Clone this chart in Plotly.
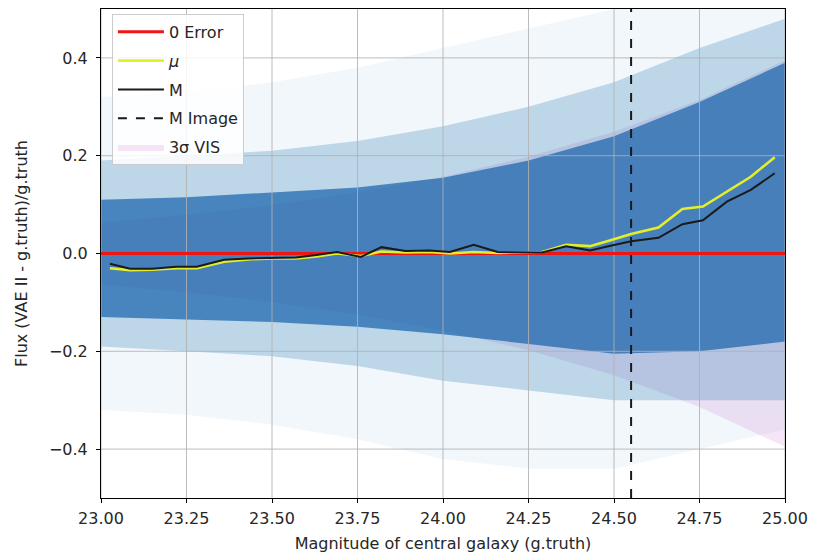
import plotly.graph_objects as go

# ---- data ----
mag_bins = [23.026, 23.085, 23.15, 23.22, 23.28, 23.36, 23.43, 23.50, 23.57, 23.63,
            23.69, 23.76, 23.82, 23.89, 23.96, 24.02, 24.09, 24.16, 24.23, 24.29,
            24.36, 24.43, 24.49, 24.55, 24.63, 24.70, 24.76, 24.83, 24.90, 24.97]
M_vals = [-0.021, -0.031, -0.031, -0.027, -0.027, -0.013, -0.010, -0.009, -0.008, -0.003,
          0.003, -0.007, 0.013, 0.005, 0.006, 0.003, 0.018, 0.003, 0.003, 0.002,
          0.015, 0.006, 0.016, 0.025, 0.032, 0.060, 0.068, 0.106, 0.130, 0.164]
mu_vals = [-0.030, -0.034, -0.033, -0.030, -0.030, -0.017, -0.012, -0.010, -0.010, -0.006,
           0.000, -0.005, 0.004, 0.002, 0.003, 0.000, 0.003, 0.001, 0.002, 0.003,
           0.018, 0.015, 0.027, 0.040, 0.053, 0.091, 0.096, 0.127, 0.157, 0.197]
M_image = 24.55

# envelope of the scatter cloud and the 3-sigma VIS band
env_mag = [23.0, 23.25, 23.5, 23.75, 24.0, 24.25, 24.5, 24.75, 25.0]
dense_hi = [0.11, 0.115, 0.125, 0.135, 0.155, 0.19, 0.24, 0.31, 0.39]
dense_lo = [-0.13, -0.135, -0.14, -0.15, -0.165, -0.185, -0.205, -0.20, -0.18]
mid_hi = [0.19, 0.20, 0.21, 0.23, 0.26, 0.30, 0.35, 0.42, 0.48]
mid_lo = [-0.19, -0.20, -0.21, -0.23, -0.26, -0.28, -0.30, -0.30, -0.30]
sparse_hi = [0.32, 0.33, 0.35, 0.38, 0.42, 0.46, 0.50, 0.50, 0.50]
sparse_lo = [-0.32, -0.33, -0.35, -0.38, -0.42, -0.44, -0.44, -0.40, -0.36]
sigma3 = [0.063, 0.079, 0.099, 0.125, 0.157, 0.198, 0.249, 0.314, 0.395]

x_ticks = [23.00, 23.25, 23.50, 23.75, 24.00, 24.25, 24.50, 24.75, 25.00]
x_ticktext = ["23.00", "23.25", "23.50", "23.75", "24.00", "24.25", "24.50", "24.75", "25.00"]
y_ticks = [-0.4, -0.2, 0.0, 0.2, 0.4]
y_ticktext = ["\u22120.4", "\u22120.2", "0.0", "0.2", "0.4"]

X_RANGE = [23.0, 25.0]
Y_RANGE = [-0.5, 0.5]
FONT = "DejaVu Sans"
FS = 16
TXT = "#262626"

fig = go.Figure()

def band(lo, hi, color, name=None, show=False, rank=None):
    tr = go.Scatter(
        x=env_mag + env_mag[::-1],
        y=hi + lo[::-1],
        fill="toself", fillcolor=color, mode="lines",
        line=dict(width=0, color=color),
        hoverinfo="skip", showlegend=show,
    )
    if name:
        tr.name = name
        tr.legendgroup = name
    if rank is not None:
        tr.legendrank = rank
    return tr

# 3 sigma VIS band (beneath the cloud so it only tints the lighter areas)
neg_sigma3 = [-v for v in sigma3]
fig.add_trace(band(neg_sigma3, sigma3, "rgba(221,160,221,0.28)",
                   name="3\u03c3 VIS", show=True, rank=5))

# scatter cloud density layers
fig.add_trace(band(sparse_lo, sparse_hi, "rgba(31,119,180,0.06)"))
fig.add_trace(band(mid_lo, mid_hi, "rgba(31,119,180,0.25)"))
fig.add_trace(band(dense_lo, dense_hi, "rgba(35,105,175,0.76)"))

# grid lines (drawn above the cloud, below the lines, as in matplotlib)
for xv in x_ticks:
    fig.add_trace(go.Scatter(x=[xv, xv], y=Y_RANGE, mode="lines",
                             line=dict(color="rgba(176,176,176,0.85)", width=1),
                             hoverinfo="skip", showlegend=False))
for yv in y_ticks:
    fig.add_trace(go.Scatter(x=X_RANGE, y=[yv, yv], mode="lines",
                             line=dict(color="rgba(176,176,176,0.85)", width=1),
                             hoverinfo="skip", showlegend=False))

fig.add_trace(go.Scatter(x=X_RANGE, y=[0, 0], mode="lines", name="0 Error",
                         legendgroup="a", legendrank=1,
                         line=dict(color="#f01515", width=3)))
fig.add_trace(go.Scatter(x=mag_bins, y=mu_vals, mode="lines", name="<i>\u03bc</i>",
                         legendgroup="b", legendrank=2,
                         line=dict(color="#e2ef2a", width=2.6)))
fig.add_trace(go.Scatter(x=mag_bins, y=M_vals, mode="lines", name="M",
                         legendgroup="c", legendrank=3,
                         line=dict(color="#1a1a1a", width=2)))
fig.add_trace(go.Scatter(x=[M_image, M_image], y=Y_RANGE, mode="lines", name="M Image",
                         legendgroup="d", legendrank=4,
                         line=dict(color="#1a1a1a", width=2, dash="dash")))

axis_common = dict(
    showgrid=False, zeroline=False, showline=True, linecolor="black", linewidth=1,
    mirror=True, ticks="outside", ticklen=4, tickcolor="black", automargin=False,
    tickfont=dict(family=FONT, size=FS, color=TXT),
)
fig.update_xaxes(range=X_RANGE, tickvals=x_ticks, ticktext=x_ticktext,
                 ticklabelstandoff=2,
                 title=dict(text="Magnitude of central galaxy (g.truth)", standoff=10,
                            font=dict(family=FONT, size=FS, color=TXT)),
                 **axis_common)
fig.update_yaxes(range=Y_RANGE, tickvals=y_ticks, ticktext=y_ticktext,
                 ticklabelstandoff=5,
                 title=dict(text="Flux (VAE II - g.truth)/g.truth", standoff=17,
                            font=dict(family=FONT, size=FS, color=TXT)),
                 **axis_common)

fig.update_layout(
    width=813, height=554,
    margin=dict(l=101, r=28, t=9, b=56),
    plot_bgcolor="white", paper_bgcolor="white",
    font=dict(family=FONT, size=FS, color=TXT),
    legend=dict(x=0.016, y=0.99, xanchor="left", yanchor="top",
                bgcolor="rgba(255,255,255,0.85)", bordercolor="#cccccc", borderwidth=1,
                traceorder="grouped", tracegroupgap=5, itemwidth=46,
                font=dict(family=FONT, size=FS, color=TXT)),
)

# remove the browser's default 8px page margin so the figure sits at (0, 0)
fig.write_html("out.html", config={"displayModeBar": False},
               post_script="document.body.style.margin='0';")
